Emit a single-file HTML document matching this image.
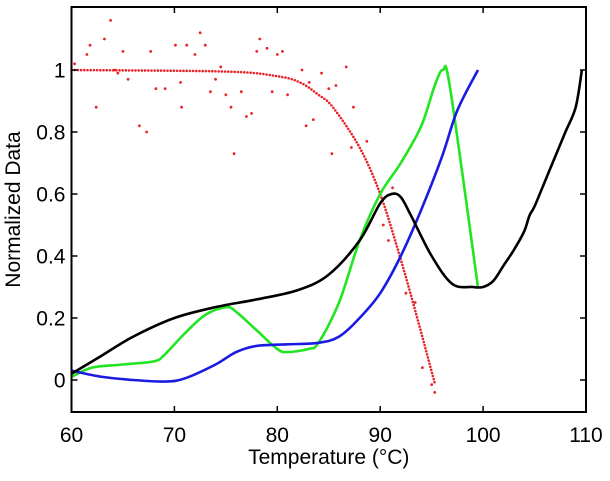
<!DOCTYPE html>
<html><head><meta charset="utf-8"><style>
html,body{margin:0;padding:0;background:#fff;}
svg text{font-family:"Liberation Sans",Arial,sans-serif;fill:#000;}
</style></head><body>
<svg id="chart" width="610" height="476" viewBox="0 0 610 476" xmlns="http://www.w3.org/2000/svg">
<g id="marks"></g>
<g id="axes"></g>
</svg>
<script>
const xTicks=[60,70,80,90,100,110];
const yTicks=[0,0.2,0.4,0.6,0.8,1];
const yTickLabels=["0","0.2","0.4","0.6","0.8","1"];
const greenX=[60,62,65,68,69,71,73,75,76,78,80,81,83,84,86,88,90,92,94,95.3,96.1,96.8,99.5];
const greenY=[0.01,0.04,0.05,0.06,0.08,0.15,0.21,0.235,0.22,0.16,0.1,0.09,0.1,0.12,0.25,0.45,0.6,0.7,0.82,0.95,1.0,0.94,0.3];
const blueX=[60,63,66,69,71,74,76,78,81,84,86,88,90,92,94,96,97.5,99.5];
const blueY=[0.03,0.01,0.0,-0.005,0.005,0.05,0.09,0.11,0.115,0.12,0.14,0.2,0.28,0.4,0.55,0.72,0.87,1.0];
const blackX=[60,63,66,70,74,78,82,85,88,90,91.1,92,93,95,97,99,100,101,102,103,104,104.5,105,106,107,108,109,109.6];
const blackY=[0.02,0.08,0.14,0.2,0.235,0.26,0.29,0.34,0.45,0.57,0.6,0.59,0.53,0.4,0.31,0.3,0.3,0.32,0.37,0.42,0.48,0.53,0.56,0.64,0.72,0.8,0.88,1.0];
const fitX=[60,75,80,82.2,84,85.4,88,90,91.9,93.6,95.3];
const fitY=[1,0.995,0.98,0.96,0.92,0.88,0.75,0.6,0.4,0.2,-0.01];
const scatX=[60.3,61.5,61.8,62.4,63.2,63.8,64.2,64.5,65,65.5,66.6,67.3,67.7,68.2,69.1,70.1,70.6,70.7,71.2,72,72.5,73,73.5,74,74.5,75,75.5,75.8,76.5,77,77.5,78,78.3,79,79.5,80,80.5,81,82.4,82.8,83.1,83.5,84.3,85,85.3,85.7,86.7,87.2,87.4,88.7,90.3,90.8,91.2,92.5,93.4,94.1,95.0,95.3];
const scatY=[1.02,1.05,1.08,0.88,1.1,1.16,1.0,0.99,1.06,0.97,0.82,0.8,1.06,0.94,0.94,1.08,0.96,0.88,1.08,1.05,1.12,1.08,0.93,0.97,1.01,0.92,0.88,0.73,0.93,0.85,0.86,1.06,1.1,1.07,0.93,1.05,1.06,0.92,1.0,0.82,0.96,0.84,0.99,0.94,0.73,0.95,1.01,0.75,0.88,0.77,0.5,0.45,0.62,0.28,0.25,0.04,-0.015,-0.04];

const L=71.5,R=586,T=7,B=412;
const sx=v=>L+(v-60)/50*(R-L);
const sy=v=>380-v*310;
const NS="http://www.w3.org/2000/svg";
const marks=document.getElementById('marks'),axes=document.getElementById('axes');
function mk(tag,attrs,parent){const e=document.createElementNS(NS,tag);for(const k in attrs)e.setAttribute(k,attrs[k]);parent.appendChild(e);return e;}
function smoothPath(xs,ys){let d='';for(let i=0;i<xs.length;i++){const x=sx(xs[i]),y=sy(ys[i]);if(i===0){d+='M'+x+','+y;continue;}const x0=sx(xs[i-1]),y0=sy(ys[i-1]);const xm1=sx(xs[Math.max(i-2,0)]),ym1=sy(ys[Math.max(i-2,0)]);const x2=sx(xs[Math.min(i+1,xs.length-1)]),y2=sy(ys[Math.min(i+1,xs.length-1)]);const c1x=x0+(x-xm1)/6,c1y=y0+(y-ym1)/6,c2x=x-(x2-x0)/6,c2y=y-(y2-y0)/6;d+=' C'+c1x+','+c1y+' '+c2x+','+c2y+' '+x+','+y;}return d;}
function line(xs,ys,color,name){const p=mk('path',{d:smoothPath(xs,ys),fill:'none',stroke:color,'stroke-width':2.6,'stroke-linejoin':'round'},marks);


return p;}
// fit dots sampled along smooth path
const fitPath=mk('path',{d:smoothPath(fitX,fitY),fill:'none',stroke:'none'},marks);
const fitG=mk('g',{},marks);


const len=fitPath.getTotalLength();
for(let s=0;s<=len;s+=3.2){const p=fitPath.getPointAtLength(s);mk('circle',{cx:p.x,cy:p.y,r:1.3,fill:'#e8242a'},fitG);}
const scG=mk('g',{},marks);


for(let i=0;i<scatX.length;i++){mk('circle',{cx:sx(scatX[i]),cy:sy(scatY[i]),r:1.4,fill:'#e8242a'},scG);}
line(greenX,greenY,'#22e522','green-series');
line(blueX,blueY,'#1a1ae0','blue-series');
line(blackX,blackY,'#000','black-series');
// axes
const fr=mk('rect',{x:L,y:T,width:R-L,height:B-T,fill:'none',stroke:'#000','stroke-width':2},axes);


xTicks.forEach(v=>{const x=sx(v);mk('line',{x1:x,x2:x,y1:B,y2:B-6,stroke:'#000','stroke-width':1.5},axes);mk('line',{x1:x,x2:x,y1:T,y2:T+6,stroke:'#000','stroke-width':1.5},axes);
const t=mk('text',{x:x,y:B+30,'text-anchor':'middle','font-size':21},axes);t.textContent=v;

});
yTicks.forEach((v,i)=>{const y=sy(v);mk('line',{x1:L,x2:L+6,y1:y,y2:y,stroke:'#000','stroke-width':1.5},axes);mk('line',{x1:R,x2:R-6,y1:y,y2:y,stroke:'#000','stroke-width':1.5},axes);
const t=mk('text',{x:L-6,y:y+7.5,'text-anchor':'end','font-size':21},axes);t.textContent=yTickLabels[i];

});
const xt=mk('text',{x:(L+R)/2,y:464,'text-anchor':'middle','font-size':21},axes);xt.textContent='Temperature (°C)';


const yt=mk('text',{x:0,y:0,'text-anchor':'middle','font-size':21,transform:'translate(20,'+(T+B)/2+') rotate(-90)'},axes);yt.textContent='Normalized Data';


</script>
</body></html>
